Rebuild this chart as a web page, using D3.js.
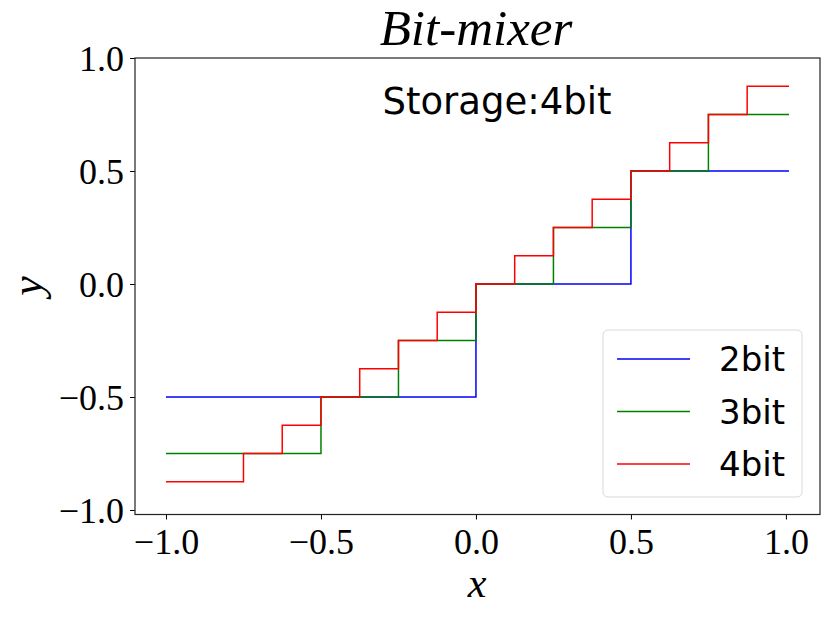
<!DOCTYPE html>
<html>
<head>
<meta charset="utf-8">
<script src="https://cdn.jsdelivr.net/npm/d3@7"></script>
<style>
  body { margin: 0; background: #fff; }
  svg { display: block; }
</style>
</head>
<body>
<div id="chart"></div>
<script>
// step breakpoints (x where each level starts) and the levels themselves
const x2bit = [-1, 0, 0.5, 1.01]
const y2bit = [-0.5, 0, 0.5, 0.5]

const x3bit = [-1, -0.5, -0.25, 0, 0.25, 0.5, 0.75, 1.01]
const y3bit = [-0.75, -0.5, -0.25, 0, 0.25, 0.5, 0.75, 0.75]

const x4bit = [-1, -0.75, -0.625, -0.5, -0.375, -0.25, -0.125, 0,
  0.125, 0.25, 0.375, 0.5, 0.625, 0.75, 0.875, 1.01]
const y4bit = [-0.875, -0.75, -0.625, -0.5, -0.375, -0.25, -0.125, 0,
  0.125, 0.25, 0.375, 0.5, 0.625, 0.75, 0.875, 0.875]

const seriesNames = ['2bit', '3bit', '4bit']
const seriesColors = ['#0000ff', '#008000', '#ff0000']
const xTicks = [-1.0, -0.5, 0.0, 0.5, 1.0]
const yTicks = [-1.0, -0.5, 0.0, 0.5, 1.0]

const width = 831
const height = 617
const plot = { left: 135, right: 820, top: 58, bottom: 514.5 }

const serif = "'Liberation Serif', 'Times New Roman', serif"
const sans = "'DejaVu Sans', sans-serif"

const svg = d3.select('#chart')
  .append('svg')
  .attr('width', width)
  .attr('height', height)
  .attr('viewBox', `0 0 ${width} ${height}`)

const xScale = d3.scaleLinear().domain([-1.1, 1.11]).range([plot.left, plot.right])
const yScale = d3.scaleLinear().domain([-1.02, 1.0]).range([plot.bottom, plot.top])

const series = [
  { name: seriesNames[0], xs: x2bit, ys: y2bit },
  { name: seriesNames[1], xs: x3bit, ys: y3bit },
  { name: seriesNames[2], xs: x4bit, ys: y4bit },
]

const line = d3.line()
  .x(d => xScale(d[0]))
  .y(d => yScale(d[1]))
  .curve(d3.curveStepAfter)

svg.append('clipPath').attr('id', 'plot-clip')
  .append('rect')
  .attr('x', plot.left).attr('y', plot.top)
  .attr('width', plot.right - plot.left)
  .attr('height', plot.bottom - plot.top)

svg.append('g')
  .attr('clip-path', 'url(#plot-clip)')
  .selectAll('path')
  .data(series)
  .join('path')
  .attr('d', s => line(s.xs.map((x, i) => [x, s.ys[i]])))
  .attr('fill', 'none')
  .attr('stroke', (s, i) => seriesColors[i])
  .attr('stroke-width', 1.5)

// axes
const fmt = d3.format('.1f')

const xAxis = svg.append('g')
  .attr('transform', `translate(0, ${plot.bottom})`)
  .call(d3.axisBottom(xScale).tickValues(xTicks).tickFormat(fmt).tickSize(5).tickPadding(6))
const yAxis = svg.append('g')
  .attr('transform', `translate(${plot.left}, 0)`)
  .call(d3.axisLeft(yScale).tickValues(yTicks).tickFormat(fmt).tickSize(5).tickPadding(6))

;[xAxis, yAxis].forEach(ax => {
  ax.select('.domain').remove()
  ax.selectAll('.tick line').attr('stroke', '#000').attr('stroke-width', 1)
  ax.selectAll('.tick text')
    .attr('fill', '#000')
    .attr('font-family', serif)
    .attr('font-size', 36)
})
xAxis.selectAll('.tick text').attr('dy', '0.8em')
yAxis.selectAll('.tick text').attr('dy', '0.34em')

// frame
svg.append('rect')
  .attr('x', plot.left)
  .attr('y', plot.top)
  .attr('width', plot.right - plot.left)
  .attr('height', plot.bottom - plot.top)
  .attr('fill', 'none')
  .attr('stroke', '#222')
  .attr('stroke-width', 1.2)

// title + labels
svg.append('text')
  .attr('x', 476)
  .attr('y', 45)
  .attr('text-anchor', 'middle')
  .attr('font-family', serif)
  .attr('font-style', 'italic')
  .attr('font-size', 51)
  .text('Bit-mixer')

svg.append('text')
  .attr('x', 497)
  .attr('y', 114)
  .attr('text-anchor', 'middle')
  .attr('font-family', sans)
  .attr('font-size', 37)
  .text('Storage:4bit')

svg.append('text')
  .attr('x', 477)
  .attr('y', 597)
  .attr('text-anchor', 'middle')
  .attr('font-family', serif)
  .attr('font-style', 'italic')
  .attr('font-size', 42)
  .text('x')

svg.append('text')
  .attr('transform', 'translate(42, 286) rotate(-90)')
  .attr('text-anchor', 'middle')
  .attr('font-family', serif)
  .attr('font-style', 'italic')
  .attr('font-size', 44)
  .text('y')

// legend
const legend = svg.append('g').attr('transform', 'translate(603, 330)')
legend.append('rect')
  .attr('width', 199)
  .attr('height', 167)
  .attr('rx', 5)
  .attr('fill', '#fff')
  .attr('fill-opacity', 0.8)
  .attr('stroke', '#d9d9d9')
  .attr('stroke-width', 1)

const items = legend.selectAll('g.item')
  .data(seriesNames)
  .join('g')
  .attr('class', 'item')
  .attr('transform', (d, i) => `translate(0, ${29 + i * 52.5})`)

items.append('line')
  .attr('x1', 14).attr('x2', 87)
  .attr('stroke', (d, i) => seriesColors[i])
  .attr('stroke-width', 1.5)

items.append('text')
  .attr('x', 116)
  .attr('y', 12)
  .attr('font-family', sans)
  .attr('font-size', 34)
  .text(d => d)
</script>
</body>
</html>
